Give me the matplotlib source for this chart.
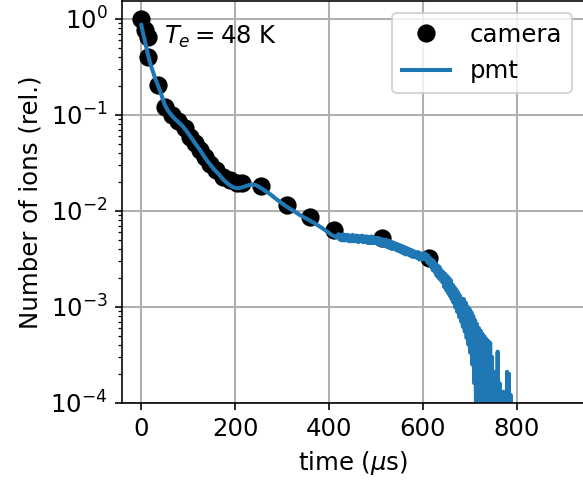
import matplotlib
matplotlib.use("Agg")
import matplotlib.pyplot as plt
import numpy as np

plt.rcParams['font.size'] = 12
plt.rcParams['path.simplify'] = False

# camera points (time in us, relative ion number)
cam_t = [0, 8, 14, 15, 36, 50, 65, 79, 93, 104, 114, 125, 136, 146, 159, 174, 189,
         203, 214, 256, 310, 359, 411, 512, 612]
cam_n = [1.0, 0.76, 0.65, 0.40, 0.204, 0.121, 0.099, 0.085, 0.072, 0.059, 0.051, 0.043,
         0.036, 0.031, 0.0265, 0.0226, 0.0209, 0.0193, 0.0193, 0.0181, 0.0115, 0.0085,
         0.0063, 0.00515, 0.00319]

# pmt trace, smooth early part
pmt_t0 = [0, 4, 8, 12, 16, 20, 25, 30, 36, 43, 50, 57, 65, 72, 80, 88, 95, 105, 115, 125,
          135, 145, 155, 165, 175, 185, 195, 205, 215, 225, 235, 245, 255, 265, 275, 285,
          295, 305, 315, 325, 335, 345, 355, 365, 375, 385, 395, 405, 415]
pmt_n0 = [0.86, 0.70, 0.58, 0.47, 0.39, 0.33, 0.28, 0.235, 0.20, 0.16, 0.127, 0.11, 0.098,
          0.09, 0.083, 0.076, 0.069, 0.059, 0.05, 0.043, 0.036, 0.031, 0.027, 0.024, 0.021,
          0.019, 0.0176, 0.0171, 0.0175, 0.0182, 0.0188, 0.0184, 0.0172, 0.016, 0.0148,
          0.0135, 0.0124, 0.0114, 0.0106, 0.0099, 0.0092, 0.0086, 0.0081, 0.0076, 0.0071,
          0.0066, 0.0061, 0.0056, 0.0053]

# noisy plateau, 420..600 us every 2.5 us
pmt_n1 = [0.0057, 0.0050, 0.0056, 0.0049, 0.0057, 0.0049, 0.0056, 0.0049, 0.0056, 0.0048,
          0.0055, 0.0048, 0.0056, 0.0048, 0.0055, 0.0048, 0.0055, 0.0047, 0.0054, 0.0048,
          0.0055, 0.0047, 0.0054, 0.0047, 0.0054, 0.0046, 0.0053, 0.0046, 0.0054, 0.0046,
          0.0053, 0.0046, 0.0052,
          0.0045, 0.0052, 0.0044, 0.0051, 0.0044, 0.0050, 0.0043, 0.0050, 0.0042, 0.0049,
          0.0041, 0.0048, 0.0040, 0.0047, 0.0040, 0.0046, 0.0039, 0.0045, 0.0038, 0.0044,
          0.0037, 0.0043, 0.0036, 0.0042, 0.0035, 0.0041, 0.0035, 0.0040, 0.0034, 0.0039,
          0.0033, 0.0038, 0.0033, 0.0037, 0.0032, 0.0037, 0.0031, 0.0036, 0.0031, 0.0035]

# falling part and noise floor, 601..789 us every 2 us
pmt_n2 = [0.0032, 0.0036, 0.0031, 0.0035, 0.0029, 0.0034, 0.0028, 0.0032, 0.0026, 0.0031,
          0.0024, 0.0030, 0.0023, 0.0028, 0.0021, 0.0027, 0.0020, 0.0026, 0.0019, 0.0024,
          0.0018, 0.0023, 0.0016, 0.0022, 0.0015, 0.0021, 0.0014, 0.0020, 0.0013, 0.0019,
          0.0012, 0.0017, 0.0011, 0.0016, 0.00098, 0.0015, 0.00088, 0.0014, 0.00078, 0.0013,
          0.00070, 0.0012, 0.00062, 0.0012, 0.00055, 0.0011, 0.00047, 0.0010, 0.00040,
          0.00095, 0.00033, 0.00088, 0.00025, 0.00080, 0.00016, 0.00072, 0.00008, 0.00066,
          0.00004, 0.00060, 0.00002, 0.00056, 0.00002, 0.00052, 0.00001, 0.00049, 0.00001,
          0.00046, 0.00001, 0.00044, 0.00001, 0.00042, 0.00001, 0.00030, 0.00001, 0.00021,
          0.00001, 0.00018, 0.00001, 0.00034, 0.00001, 0.00016, 0.00001, 0.00012, 0.00001,
          0.00013, 0.00001, 0.00011, 0.00001, 0.00021, 0.00001, 0.00020, 0.00001, 0.00012,
          0.00001]

pmt_t = np.concatenate([pmt_t0,
                        420 + 2.5 * np.arange(len(pmt_n1)),
                        601 + 2.0 * np.arange(len(pmt_n2))])
pmt_n = np.concatenate([pmt_n0, pmt_n1, pmt_n2])

fig = plt.figure(figsize=(583 / 146, 484 / 146), dpi=146)
ax = fig.add_axes([0.2093, 0.168, 0.7925, 0.830])

ax.plot(cam_t, cam_n, 'o', color='black', ms=8, label='camera')
ax.plot(pmt_t, pmt_n, '-', color='#1f77b4', lw=2, label='pmt')
ax.set_yscale('log')
ax.set_xlim(-41, 943)
ax.set_ylim(1e-4, 1.53)
ax.grid(True, color='#b0b0b0', lw=1.0)
ax.set_xlabel(r'time ($\mu$s)')
ax.set_ylabel('Number of ions (rel.)')
ax.text(0.09, 0.91, r'$T_e = 48$ K', transform=ax.transAxes, va='center')
ax.legend(loc='upper right')

fig.savefig('out.png', dpi=146)
